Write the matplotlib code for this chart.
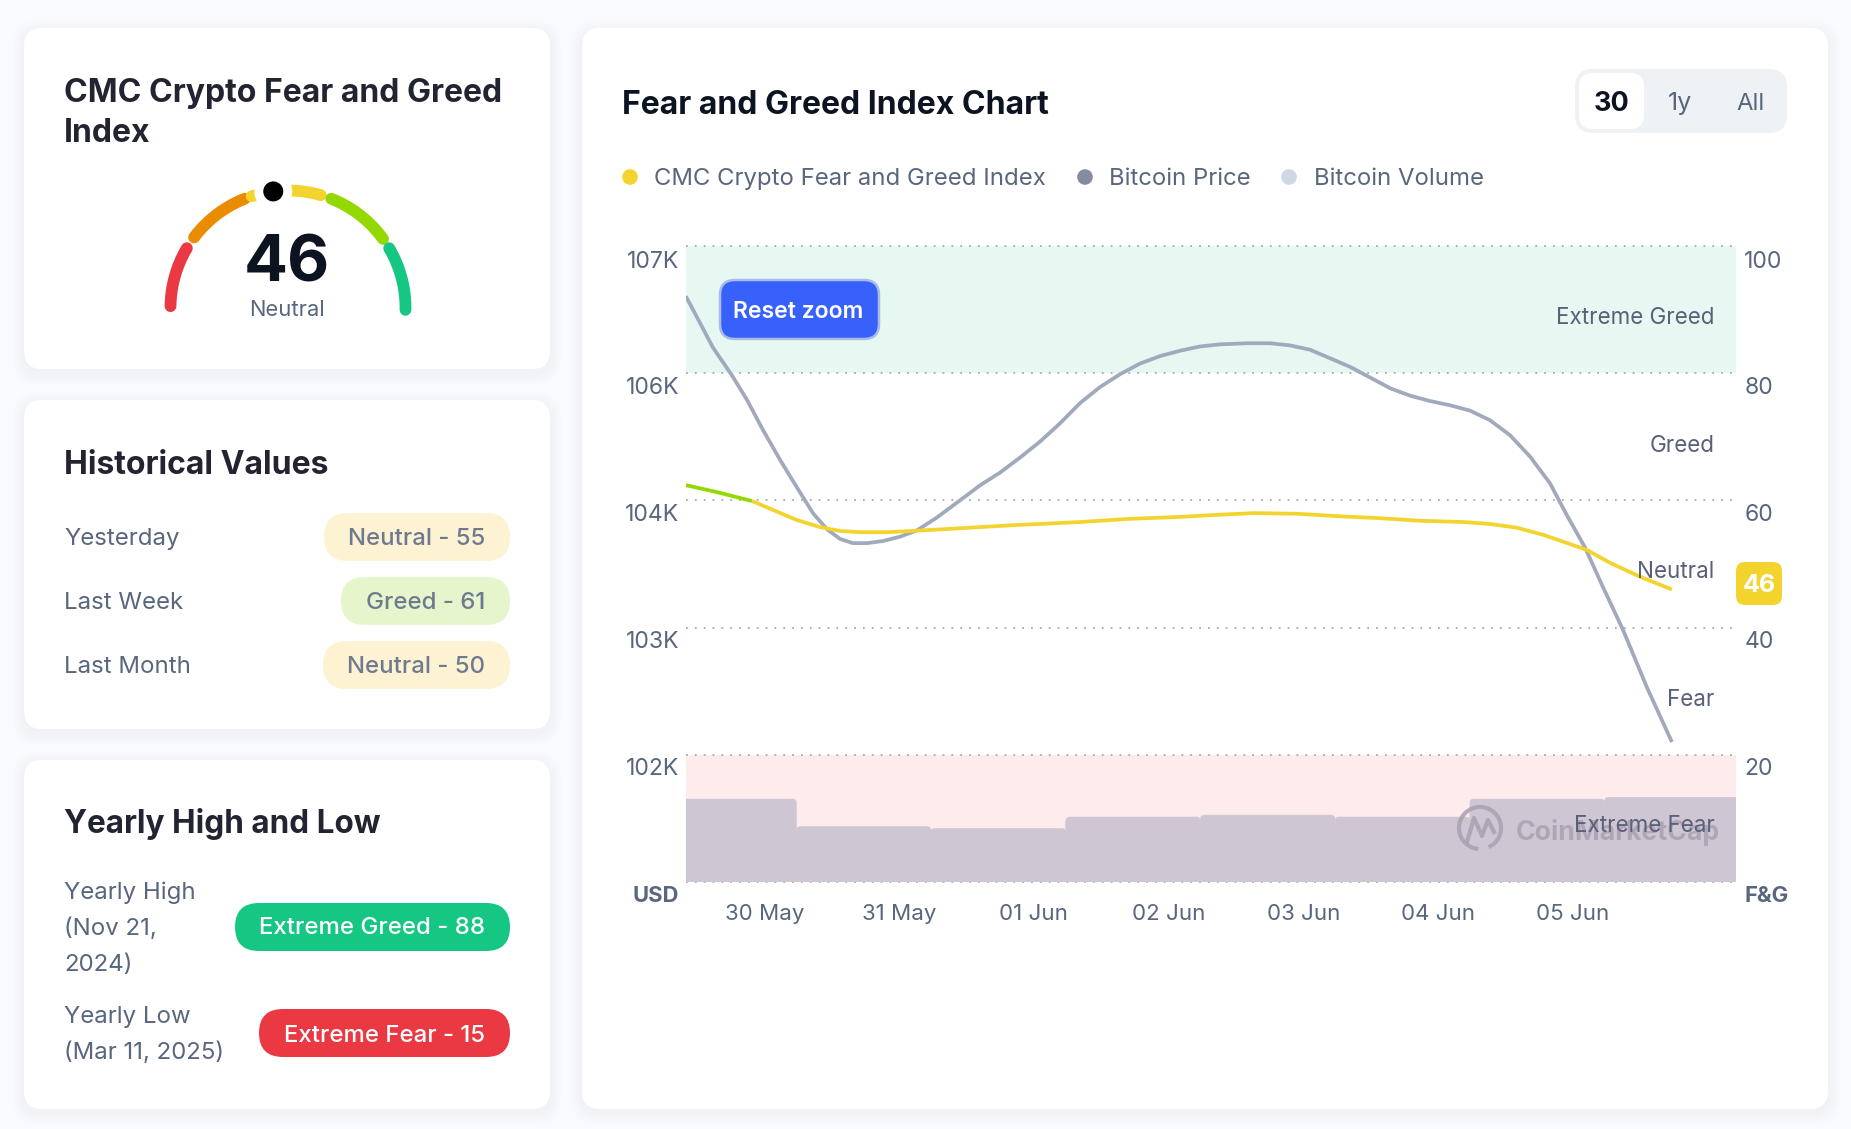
import numpy as np
import matplotlib
matplotlib.use("Agg")
import matplotlib.pyplot as plt
from matplotlib.patches import FancyBboxPatch, Circle, Rectangle
from matplotlib.transforms import ScaledTranslation

plt.rcParams['font.family'] = ['Inter', 'DejaVu Sans']

W, H = 1851, 1129

# price line, days from 30 May, USD thousands
price_day = [-0.32, -0.215, -0.119, 0.022, 0.134, 0.252, 0.379, 0.505, 0.624, 0.728, 0.824, 0.921,
             1.024, 1.143, 1.269, 1.396, 1.544, 1.715, 1.863, 2.012, 2.16, 2.309, 2.457, 2.606,
             2.754, 2.903, 3.051, 3.2, 3.348, 3.497, 3.645, 3.846, 4.016, 4.165, 4.313, 4.462,
             4.61, 4.759, 4.907, 5.056, 5.204, 5.353, 5.501, 5.65, 5.798, 5.947, 6.095, 6.221,
             6.355, 6.488, 6.637, 6.815, 7.0]
price_k = [106.43, 106.18, 105.95, 105.69, 105.46, 105.18, 104.9, 104.64, 104.4, 104.25, 104.16, 104.12,
           104.12, 104.14, 104.18, 104.24, 104.36, 104.52, 104.66, 104.78, 104.92, 105.07, 105.24, 105.43,
           105.58, 105.7, 105.8, 105.87, 105.92, 105.96, 105.98, 105.99, 105.99, 105.97, 105.93, 105.85,
           105.77, 105.67, 105.57, 105.5, 105.45, 105.41, 105.36, 105.27, 105.13, 104.93, 104.68, 104.38,
           104.08, 103.71, 103.31, 102.77, 102.26]

# fear and greed line
fng_day = [-0.32, -0.089, 0.171, 0.327, 0.505, 0.676, 0.824, 0.973, 1.173, 1.366, 1.618, 2.108, 2.606,
           2.977, 3.348, 3.593, 3.89, 4.217, 4.536, 4.833, 5.13, 5.449, 5.65, 5.85, 6.043, 6.221,
           6.37, 6.54, 6.763, 7.0]
fng_val = [62.4, 61.3, 59.9, 58.5, 56.9, 55.8, 55.2, 55.0, 55.0, 55.2, 55.5, 56.1, 56.6,
           57.1, 57.4, 57.7, 58.0, 57.9, 57.5, 57.2, 56.8, 56.6, 56.3, 55.7, 54.6, 53.3,
           52.2, 50.2, 48.0, 46.0]

# daily volume, USD billions
vol_day = [0, 1, 2, 3, 4, 5, 6, 7]
vol_b = [48, 32, 31, 37.6, 38.7, 37.6, 48, 49]

date_labels = ['30 May', '31 May', '01 Jun', '02 Jun', '03 Jun', '04 Jun', '05 Jun']
price_ticks = [106.9, 105.71, 104.52, 103.33, 102.14, 100.95]
price_tick_labels = ['107K', '106K', '104K', '103K', '102K', 'USD']
fng_ticks = [100, 80, 60, 40, 20, 0]
fng_tick_labels = ['100', '80', '60', '40', '20', 'F&G']
zone_names = ['Extreme Greed', 'Greed', 'Neutral', 'Fear', 'Extreme Fear']

gauge_value = 46
gauge_start = [0.5, 20.5, 40, 62, 83]
gauge_end = [17, 38, 59, 80, 100.5]
gauge_colors = ['#ea3943', '#ea8c00', '#f3d42f', '#93d900', '#16c784']

hist_names = ['Yesterday', 'Last Week', 'Last Month']
hist_pills = ['Neutral - 55', 'Greed - 61', 'Neutral - 50']

GRAY = '#58667e'
DARK = '#222531'
BLACK = '#0d1421'
PILL_TXT = '#6f7a90'

fig = plt.figure(figsize=(W / 100, H / 100), dpi=100, facecolor='#f8fafd')

# page layer in pixel coords
bg = fig.add_axes([0, 0, 1, 1], zorder=0)
bg.set_xlim(0, W)
bg.set_ylim(H, 0)
bg.axis('off')

top = fig.add_axes([0, 0, 1, 1], zorder=10)
top.set_xlim(0, W)
top.set_ylim(H, 0)
top.axis('off')


def rbox(a, x0, y0, x1, y1, r, color, ec='none', lw=0, z=2):
    p = FancyBboxPatch((x0, y0), x1 - x0, y1 - y0, boxstyle="round,pad=0,rounding_size=%s" % r,
                       fc=color, ec=ec, lw=lw, zorder=z)
    a.add_patch(p)
    return p


def label(a, x, y, s, px, color=GRAY, weight='normal', ha='left', z=5):
    return a.text(x, y, s, fontsize=px * 0.72, color=color, fontweight=weight, ha=ha,
                  va='center_baseline', zorder=z)


def card(x0, y0, x1, y1):
    # soft shadow
    for g in range(1, 9):
        p = FancyBboxPatch((x0 - g * 1.5, y0 - g * 1.5 + 4), x1 - x0 + g * 3, y1 - y0 + g * 3,
                           boxstyle="round,pad=0,rounding_size=%s" % (18 + g), fc='#5a6478',
                           ec='none', alpha=0.0035, zorder=1)
        bg.add_patch(p)
    rbox(bg, x0, y0, x1, y1, 18, 'white')


card(24, 28, 550, 369)
card(24, 400, 550, 729)
card(24, 760, 550, 1109)
card(582, 28, 1828, 1109)

# gauge card
label(bg, 64, 90, 'CMC Crypto Fear and Greed', 32, DARK, 'bold')
label(bg, 64, 130, 'Index', 32, DARK, 'bold')
cx, cy, rad = 288, 308, 117.5
for v0, v1, c in zip(gauge_start, gauge_end, gauge_colors):
    ang = np.radians(180 - 1.8 * np.linspace(v0, v1, 60))
    bg.plot(cx + rad * np.cos(ang), cy - rad * np.sin(ang), color=c, lw=8.5, solid_capstyle='round', zorder=3)
needle = np.radians(180 - 1.8 * gauge_value)
nx, ny = cx + rad * np.cos(needle), cy - rad * np.sin(needle)
bg.add_patch(Circle((nx, ny), 19, fc='white', ec='none', zorder=4))
bg.add_patch(Circle((nx, ny), 10, fc='black', ec='none', zorder=5))
label(bg, 287, 258, str(gauge_value), 65, BLACK, 'bold', ha='center')
label(bg, 287, 308, 'Neutral', 22, GRAY, ha='center')

# historical values
label(bg, 64, 462, 'Historical Values', 32, DARK, 'bold')
hist_y = [537, 601, 665]
hist_x0 = [324, 341, 323]
hist_col = ['#fdf3d3', '#e6f5cc', '#fdf3d3']
for name, pill, y, x0, c in zip(hist_names, hist_pills, hist_y, hist_x0, hist_col):
    label(bg, 64, y - 0.5, name, 24)
    rbox(bg, x0, y - 24, 510, y + 24, 24, c, z=3)
    label(bg, 485, y - 0.5, pill, 24, PILL_TXT, 'medium', ha='right')

# yearly high and low
label(bg, 64, 821, 'Yearly High and Low', 31.5, DARK, 'bold')
label(bg, 64, 890, 'Yearly High', 24)
label(bg, 64, 926, '(Nov 21,', 24)
label(bg, 64, 962, '2024)', 24)
label(bg, 64, 1014, 'Yearly Low', 24)
label(bg, 64, 1050, '(Mar 11, 2025)', 24)
rbox(bg, 235, 903, 510, 951, 24, '#16c784', z=3)
label(bg, 485, 926, 'Extreme Greed - 88', 24, 'white', 'medium', ha='right')
rbox(bg, 259, 1009, 510, 1057, 24, '#ea3943', z=3)
label(bg, 485, 1033, 'Extreme Fear - 15', 24, 'white', 'medium', ha='right')

# chart header
label(bg, 622, 102, 'Fear and Greed Index Chart', 32, BLACK, 'bold')
rbox(bg, 1575, 69, 1787, 133, 18, '#eff2f5')
rbox(bg, 1579, 73, 1644, 129, 14, 'white', z=3)
t30 = label(bg, 1594, 101, '30d', 27, BLACK, 'bold')
t30.set_clip_on(True)
t30.set_clip_path(Rectangle((1579, 73), 51, 56, transform=bg.transData))
label(bg, 1680, 101, '1y', 25, GRAY, ha='center')
label(bg, 1751, 101, 'All', 24, GRAY, ha='center')

legend_dots = [630, 1085, 1289]
legend_text = [654, 1109, 1314]
legend_names = ['CMC Crypto Fear and Greed Index', 'Bitcoin Price', 'Bitcoin Volume']
legend_cols = ['#f3d42f', '#858ca2', '#cfd6e4']
for dx, tx, s, c in zip(legend_dots, legend_text, legend_names, legend_cols):
    bg.add_patch(Circle((dx, 177), 7.8, fc=c, ec='none', zorder=3))
    label(bg, tx, 176.5, s, 23.9)

# chart axes, one twin per scale
pos = [686 / W, 1 - 882 / H, (1736 - 686) / W, (882 - 246) / H]
ax = fig.add_axes(pos, zorder=1)
ax.patch.set_visible(False)
ax.set_xlim(-0.319, 7.476)
ax.set_ylim(0, 100)
ax.axhspan(80, 100, color='#e7f8f2', lw=0, zorder=1)
ax.axhspan(0, 20, color='#feecec', lw=0, zorder=1)
for v in fng_ticks:
    ax.axhline(v, color='#a3aab6', lw=1.3, ls=(0, (1, 3.9)), zorder=4, clip_on=False)

ax_vol = ax.twinx()
ax_vol.set_zorder(2)
ax_vol.set_ylim(0, 368)
for d, v in zip(vol_day, vol_b):
    ax_vol.add_patch(FancyBboxPatch((d - 0.5, -10), 1.0, v + 10,
                                    boxstyle="round,pad=0,rounding_size=0.03",
                                    mutation_aspect=79, fc='#cfc6d3', ec='#cfc6d3', lw=0.4, clip_on=True))
ax_vol.axis('off')

ax_price = ax.twinx()
ax_price.set_zorder(3)
ax_price.set_ylim(100.95, 106.9)
ax_price.plot(price_day, price_k, color='#a1aabc', lw=2.7, solid_capstyle='butt', solid_joinstyle='round')

ax_fng = ax.twinx()
ax_fng.set_zorder(4)
ax_fng.set_ylim(0, 100)
split = fng_val.index(59.9) + 1
ax_fng.plot(fng_day[:split], fng_val[:split], color='#93d900', lw=2.7, solid_capstyle='butt')
ax_fng.plot(fng_day[split - 1:], fng_val[split - 1:], color='#f3d42f', lw=2.7, solid_capstyle='butt')
ax_fng.axis('off')

for a in (ax, ax_price):
    for s in a.spines.values():
        s.set_visible(False)

down = ScaledTranslation(0, -12 / 100, fig.dpi_scale_trans)
down_top = ScaledTranslation(0, -14 / 100, fig.dpi_scale_trans)
ax.set_xticks(range(len(date_labels)))
ax.set_xticklabels(date_labels, fontsize=22.3 * 0.72, color=GRAY)
ax.tick_params(axis='x', length=0, pad=15.7)
right_shift = ScaledTranslation(35.5 / 100, 0, fig.dpi_scale_trans)
for t in ax.get_xticklabels():
    t.set_transform(t.get_transform() + right_shift)

ax.yaxis.tick_right()
ax.set_yticks(fng_ticks)
ax.set_yticklabels(fng_tick_labels, fontsize=23 * 0.72, color=GRAY)
ax.tick_params(axis='y', length=0, pad=6)
for i, t in enumerate(ax.get_yticklabels()):
    t.set_transform(t.get_transform() + (down_top if i == 0 else down))
ax.get_yticklabels()[-1].set_fontweight('bold')
ax.get_yticklabels()[-1].set_fontsize(22 * 0.72)

ax_price.yaxis.tick_left()
ax_price.set_yticks(price_ticks)
ax_price.set_yticklabels(price_tick_labels, fontsize=23 * 0.72, color=GRAY)
ax_price.tick_params(axis='y', length=0, pad=5)
ax_price.tick_params(axis='x', length=0, labelbottom=False)
for i, t in enumerate(ax_price.get_yticklabels()):
    t.set_transform(t.get_transform() + (down_top if i == 0 else down))
ax_price.get_yticklabels()[-1].set_fontweight('bold')
ax_price.get_yticklabels()[-1].set_fontsize(22 * 0.72)

# overlays on the chart
rbox(top, 720, 280, 879, 339, 15, '#3861fb', ec='#a9bbe8', lw=1.8)
label(top, 798, 309, 'Reset zoom', 23, 'white', 'semibold', ha='center')

rbox(top, 1736, 562, 1782, 605, 9, '#f3d42f')
label(top, 1759, 583, str(gauge_value), 25, 'white', 'bold', ha='center')

# watermark
wm = '#ab9fb2'
ang = np.radians(np.linspace(-60, 260, 80))
top.plot(1480 + 21 * np.cos(ang), 828 - 21 * np.sin(ang), color=wm, lw=3, alpha=0.85, zorder=3)
top.plot([1467, 1474, 1482, 1488, 1494], [842, 818, 836, 820, 832], color=wm, lw=3, alpha=0.85, zorder=3)
top.text(1516, 830, 'CoinMarketCap', fontsize=26.7 * 0.72, color=wm, fontweight='bold', alpha=0.85,
         va='center_baseline', zorder=3)

zone_y = [315, 443, 569, 697, 823]
for s, y in zip(zone_names, zone_y):
    label(top, 1714.5, y, s, 22.4, '#58607a', ha='right', z=6)

fig.savefig('out.png', dpi=100, facecolor=fig.get_facecolor())
